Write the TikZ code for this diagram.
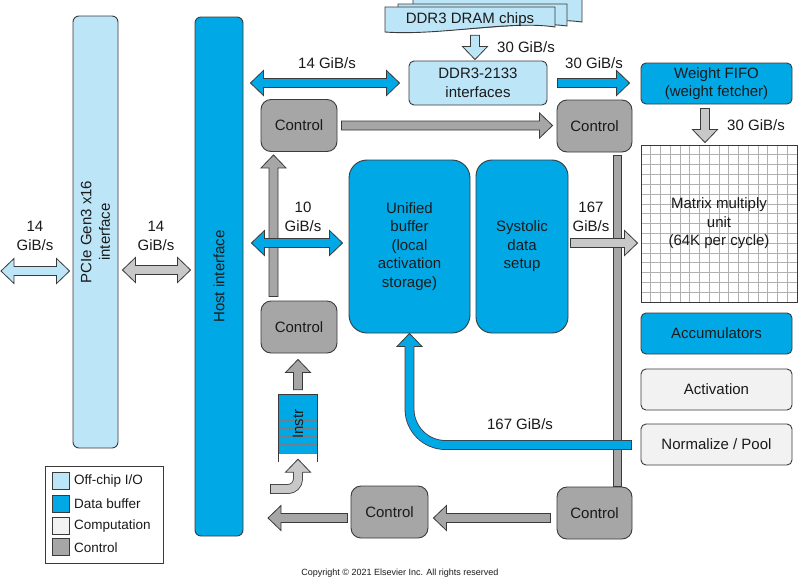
\documentclass[tikz,border=0pt]{standalone}
\usepackage{fontspec}
\setmainfont{Liberation Sans}
\usetikzlibrary{calc}
\definecolor{offchip}{HTML}{BDE5F8}
\definecolor{dbuf}{HTML}{00A9E6}
\definecolor{comp}{HTML}{F2F2F2}
\definecolor{ctrl}{HTML}{A6A6A6}
\definecolor{lgray}{HTML}{C8C8C8}
\definecolor{bc}{HTML}{3A3A3A}
\definecolor{gridc}{HTML}{B0B0B0}
\definecolor{fifol}{HTML}{6E7F88}
\definecolor{txt}{HTML}{1A1A1A}
\def\aw{4.5pt}\def\ah{12.5pt}\def\al{13pt}
% single block arrow
\newcommand{\sarrow}[3]{%
 \path #2 coordinate (bS); \path #3 coordinate (bE);
 \coordinate (bB) at ($(bE)!\al!(bS)$);
 \draw[#1] ($(bS)!\aw!90:(bE)$) -- ($(bB)!\aw!90:(bE)$) -- ($(bB)!\ah!90:(bE)$) -- (bE) -- ($(bB)!\ah!-90:(bE)$) -- ($(bB)!\aw!-90:(bE)$) -- ($(bS)!\aw!-90:(bE)$) -- cycle;}
% double block arrow
\newcommand{\darrow}[3]{%
 \path #2 coordinate (bS); \path #3 coordinate (bE);
 \coordinate (bB) at ($(bE)!\al!(bS)$);
 \coordinate (bA) at ($(bS)!\al!(bE)$);
 \draw[#1] (bS) -- ($(bA)!\ah!90:(bE)$) -- ($(bA)!\aw!90:(bE)$) -- ($(bB)!\aw!90:(bE)$) -- ($(bB)!\ah!90:(bE)$) -- (bE) -- ($(bB)!\ah!-90:(bE)$) -- ($(bB)!\aw!-90:(bE)$) -- ($(bA)!\aw!-90:(bE)$) -- ($(bA)!\ah!-90:(bE)$) -- cycle;}
% arrow head for curved shafts
\newcommand{\ahead}[3]{%
 \path #2 coordinate (hB); \path #3 coordinate (hT);
 \fill[#1] ($(hB)!\ah!90:(hT)$) -- (hT) -- ($(hB)!\ah!-90:(hT)$) -- cycle;
 \draw[draw=bc, line width=0.8pt, line join=miter] ($(hB)!\aw!90:(hT)$) -- ($(hB)!\ah!90:(hT)$) -- (hT) -- ($(hB)!\ah!-90:(hT)$) -- ($(hB)!\aw!-90:(hT)$);}
\begin{document}
\begin{tikzpicture}[x=1pt,y=-1pt,
  every node/.style={text=txt, font=\fontsize{15}{18.5}\selectfont},
  box/.style={draw=bc, line width=0.9pt, rounded corners=5pt, align=center, inner sep=0pt},
  ctrlbox/.style={box, fill=ctrl, rounded corners=10pt, minimum width=76pt, minimum height=52pt},
  lbl/.style={align=center, inner sep=0pt},
  arr/.style={draw=bc, line width=0.8pt, line join=miter},
  blueA/.style={arr, fill=dbuf},
  lblueA/.style={arr, fill=offchip},
  lgrayA/.style={arr, fill=lgray},
  ctrlA/.style={arr, fill=ctrl},
  shaft/.style={draw=bc, line width=0.8pt, double distance=8.2pt},
  swatch/.style={draw=bc, line width=0.9pt, minimum width=17pt, minimum height=17pt, inner sep=0pt},
  legtxt/.style={anchor=west, inner sep=0pt, font=\fontsize{13.5}{16}\selectfont}
]
\useasboundingbox (0,0) rectangle (800,582);
\fill[white] (0,0) rectangle (800,582);

% ---------- DRAM chips (stacked sheets)
\draw[draw=bc, line width=0.9pt, fill=offchip] (413,-2) -- (582,-2) -- (582,22) .. controls (540,16) and (470,30) .. (413,26) -- cycle;
\draw[draw=bc, line width=0.9pt, fill=offchip] (398,4) -- (567,4) -- (567,26) .. controls (525,20) and (455,34) .. (398,30) -- cycle;
\draw[draw=bc, line width=0.9pt, fill=offchip] (385,7) -- (555,7) -- (555,27) .. controls (510,20) and (440,36) .. (385,32) -- cycle;
\node[lbl, minimum width=170pt, minimum height=25pt] (dram) at (470,19.5) {DDR3 DRAM chips};

% ---------- main blocks
\node[box, fill=offchip, rounded corners=6pt, minimum width=45pt, minimum height=432pt] (pcie) at (95.5,232) {};
\node[lbl, rotate=90] (pcietxt) at (pcie.center) {PCIe Gen3 x16\\interface};
\node[box, fill=dbuf, rounded corners=6pt, minimum width=48pt, minimum height=519pt] (host) at (219,276.5) {};
\node[lbl, rotate=90] (hosttxt) at (host.center) {Host interface};

\node[box, fill=offchip, minimum width=138pt, minimum height=44pt] (ddr) at (478,83) {DDR3-2133\\interfaces};
\node[box, fill=dbuf, minimum width=151pt, minimum height=41pt] (wfifo) at (716.5,83.5) {Weight FIFO\\(weight fetcher)};

\node[ctrlbox] (ctrl1) at (299,125.5) {Control};
\node[ctrlbox, minimum width=75pt] (ctrl2) at (594.5,126) {Control};
\node[ctrlbox] (ctrl3) at (299,327) {Control};
\node[ctrlbox, minimum width=77pt] (ctrl5) at (389.5,512) {Control};
\node[ctrlbox, minimum width=75pt] (ctrl4) at (594.5,513) {Control};

\node[box, fill=dbuf, rounded corners=18pt, minimum width=121pt, minimum height=173pt] (ub) at (409.5,246.5) {Unified\\buffer\\(local\\activation\\storage)};
\node[box, fill=dbuf, rounded corners=16pt, minimum width=92pt, minimum height=173pt] (sds) at (522,246.5) {Systolic\\data\\setup};

\node[box, rounded corners=0pt, fill=white, minimum width=156pt, minimum height=157pt,
  path picture={
    \foreach \i in {1,...,15}{
      \draw[gridc, line width=0.7pt] ($(path picture bounding box.north west)!\i/16!(path picture bounding box.north east)$) -- ($(path picture bounding box.south west)!\i/16!(path picture bounding box.south east)$);
      \draw[gridc, line width=0.7pt] ($(path picture bounding box.north west)!\i/16!(path picture bounding box.south west)$) -- ($(path picture bounding box.north east)!\i/16!(path picture bounding box.south east)$);
    }}] (mmu) at (719,223.5) {Matrix multiply\\unit\\(64K per cycle)};

\node[box, fill=dbuf, minimum width=151pt, minimum height=41pt] (acc) at (716.5,333.5) {Accumulators};
\node[box, fill=comp, minimum width=151pt, minimum height=41pt] (act) at (716.5,389.5) {Activation};
\node[box, fill=comp, minimum width=151pt, minimum height=41pt] (norm) at (716.5,444.5) {Normalize / Pool};

% ---------- Instr FIFO
\node[fill=dbuf, inner sep=0pt, minimum width=38pt, minimum height=58pt,
  path picture={
    \foreach \k in {1,...,7}{
      \draw[draw=fifol, line width=0.6pt] ($(path picture bounding box.north west)!\k/7!(path picture bounding box.south west)$) -- ($(path picture bounding box.north east)!\k/7!(path picture bounding box.south east)$);
    }}] (instr) at (298,424) {};
\node[lbl, rotate=90] (instrtxt) at (instr.center) {Instr};
\draw[draw=bc, line width=0.9pt] ($(instr.south west)+(0,9)$) -- (instr.north west) -- (instr.north east) -- ($(instr.south east)+(0,9)$);

% ---------- gray control connectors (below blue arrows)
\draw[draw=bc, line width=0.8pt, fill=ctrl] ($(ctrl2.south)+(18.5,3)$) rectangle ($(ctrl4.north)+(26.5,0)$);
\sarrow{ctrlA}{($(ctrl3.north)+(-25.5,-4)$)}{($(ctrl1.south)+(-25.5,3)$)}
\sarrow{ctrlA}{($(ctrl1.east)+(4,0)$)}{($(ctrl2.west)+(-4,-0.5)$)}
\sarrow{ctrlA}{($(instr.north)+(0,-5)$)}{($(ctrl3.south)+(-1,6)$)}
\coordinate (bfree) at (268,518);
\sarrow{ctrlA}{($(ctrl5.west)+(-3,6)$)}{(bfree)}
\sarrow{ctrlA}{($(ctrl4.west)+(-6,5)$)}{($(ctrl5.east)+(5,6)$)}

% ---------- data arrows
\coordinate (lfree) at (1,271);
\darrow{lblueA}{(lfree)}{($(lfree -| pcie.west)+(-3,0)$)}
\darrow{lgrayA}{($(pcie.east)+(4,38)$)}{($(host.west)+(-4,-6.5)$)}
\darrow{blueA}{($(host.east |- ddr.west)+(7,0)$)}{($(ddr.west)+(-9,0)$)}
\sarrow{lblueA}{($(dram.south)+(5,3)$)}{($(ddr.north)+(-3,-1)$)}
\sarrow{blueA}{($(ddr.east)+(10,0)$)}{($(wfifo.west)+(-11,-0.5)$)}
\sarrow{lgrayA}{($(wfifo.south)+(-11.5,4)$)}{($(mmu.north)+(-14,-2)$)}
\darrow{blueA}{($(host.east)+(8,-33.5)$)}{($(ub.west)+(-6,-3.5)$)}
\sarrow{lgrayA}{($(sds.east)+(2,-3.5)$)}{($(mmu.west)+(-3,19.5)$)}

% curved blue arrow Normalize -> Unified buffer
\coordinate (c1) at ($(norm.west)+(-9,0.5)$);
\coordinate (c2) at (ub.south);
\draw[shaft, double=dbuf, rounded corners=36pt] (c1) -- (c2 |- c1) -- ($(c2)+(0,13)$);
\draw[draw=bc, line width=0.8pt] ($(c1)+(0,-4.9)$) -- ($(c1)+(0,4.9)$);
\ahead{dbuf}{($(c2)+(0,13)$)}{(c2)}

% curved light gray arrow into Instr
\coordinate (ifree) at (270,489);
\coordinate (it) at ($(instr.south)+(0,6)$);
\draw[shaft, double=lgray, rounded corners=10pt] (ifree) -- (it |- ifree) -- ($(it)+(0,13)$);
\draw[draw=bc, line width=0.8pt] ($(ifree)+(0,-4.9)$) -- ($(ifree)+(0,4.9)$);
\ahead{lgray}{($(it)+(0,13)$)}{(it)}

% ---------- labels
\node[lbl] (l1) at (35,236) {14\\GiB/s};
\node[lbl] (l2) at (156,236) {14\\GiB/s};
\node[lbl] (l3) at (327,63) {14 GiB/s};
\node[lbl] (l4) at (303,217) {10\\GiB/s};
\node[lbl] (l5) at (526,47) {30 GiB/s};
\node[lbl] (l6) at (594,63) {30 GiB/s};
\node[lbl] (l7) at (756,125) {30 GiB/s};
\node[lbl] (l8) at (591,217) {167\\GiB/s};
\node[lbl] (l9) at (520,424) {167 GiB/s};

% ---------- legend
\node[draw=bc, line width=0.9pt, fill=white, minimum width=118pt, minimum height=97pt, inner sep=0pt] (legend) at (104,514.5) {};
\node[swatch, fill=offchip] (sw1) at (60.5,480.5) {};
\node[swatch, fill=dbuf] (sw2) at (60.5,503.5) {};
\node[swatch, fill=comp] (sw3) at (60.5,525.5) {};
\node[swatch, fill=ctrl] (sw4) at (60.5,547) {};
\node[legtxt] (lt1) at (74,481) {Off-chip I/O};
\node[legtxt] (lt2) at (74,504) {Data buffer};
\node[legtxt] (lt3) at (74,526) {Computation};
\node[legtxt] (lt4) at (74,548) {Control};

% ---------- copyright
\node[inner sep=0pt, font=\fontsize{9}{10}\selectfont] (copy) at (400,573.5) {Copyright © 2021 Elsevier Inc. All rights reserved};
\end{tikzpicture}
\end{document}
